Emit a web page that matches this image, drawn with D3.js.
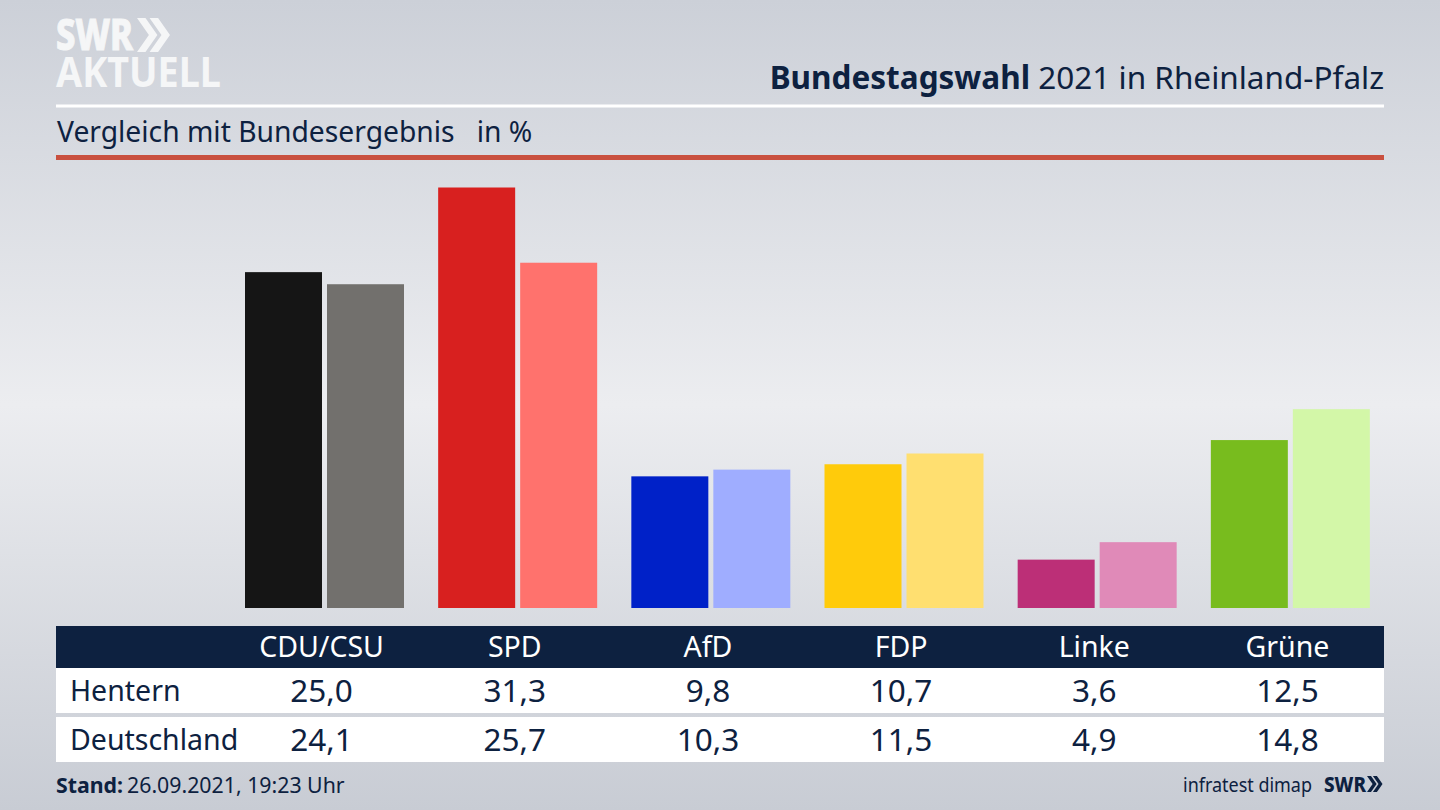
<!DOCTYPE html>
<html><head><meta charset="utf-8">
<script src="https://cdn.jsdelivr.net/npm/d3@7"></script>
<style>html,body{margin:0;padding:0;overflow:hidden;background:#d8dbe0}svg{display:block}text{font-family:"Noto Sans",sans-serif;fill:#0d2140}</style>
</head><body><div id="c"></div>
<script>
const parties = ["CDU/CSU","SPD","AfD","FDP","Linke","Grüne"];
const hentern = [25.0,31.3,9.8,10.7,3.6,12.5];
const deutschland = [24.1,25.7,10.3,11.5,4.9,14.8];
const seriesNames = ["Hentern","Deutschland"];
const colorsHentern = ["#151515","#d8201f","#0021c8","#ffcb0b","#bc2f77","#78bc1e"];
const colorsDeutschland = ["#72706d","#ff726d","#9fadff","#ffdf70","#e08ab8","#d3f7a8"];
const fmt = v => v.toFixed(1).replace(".",",");

const W=1440,H=810;
const svg=d3.select("#c").append("svg").attr("width",W).attr("height",H);
const defs=svg.append("defs");
const g=defs.append("linearGradient").attr("id","bg").attr("x1",0).attr("x2",0).attr("y1",0).attr("y2",1);
[[0,"#ccd0d8"],[0.5,"#ecedf0"],[1,"#c8ccd4"]].forEach(d=>g.append("stop").attr("offset",d[0]).attr("stop-color",d[1]));
svg.append("rect").attr("width",W).attr("height",H).attr("fill","url(#bg)");

// logo
const chev=(sel,x,y,h,fill)=>{const w=h*0.35,th=h*0.25;[0,0.37].forEach(k=>{const x0=x+k*h;
 sel.append("path").attr("d",`M${x0},${y}h${th}l${w},${h/2}l${-w},${h/2}h${-th}l${w},${-h/2}z`).attr("fill",fill);});};
const logoFill="#f5f6f7";
svg.append("text").attr("x",56).attr("y",50).attr("font-size",43).attr("font-weight",800).attr("textLength",77).attr("lengthAdjust","spacingAndGlyphs").style("fill",logoFill).style("stroke",logoFill).style("stroke-width",1).text("SWR");
chev(svg,137,18,34,logoFill);
svg.append("text").attr("x",56).attr("y",87).attr("font-size",42).attr("font-weight",700).attr("textLength",165).attr("lengthAdjust","spacingAndGlyphs").style("fill",logoFill).text("AKTUELL");

// title
const t=svg.append("text").attr("x",1384).attr("y",89).attr("text-anchor","end").attr("font-size",31.5);
t.append("tspan").attr("font-weight",700).text("Bundestagswahl");
t.append("tspan").text(" 2021 in Rheinland-Pfalz");
svg.append("rect").attr("x",56).attr("y",104.5).attr("width",1328).attr("height",3).attr("fill","#fff");
svg.append("text").attr("x",57).attr("y",142).attr("font-size",28.25).attr("xml:space","preserve").style("white-space","pre").text("Vergleich mit Bundesergebnis   in %");
svg.append("rect").attr("x",56).attr("y",155).attr("width",1328).attr("height",5).attr("fill","#c9503f");

// bars
const x=d3.scaleBand().domain(parties).range([228,1387]).padding(0);
const inner=d3.scaleBand().domain(seriesNames).range([17,176]).paddingInner(0.061);
const y=d3.scaleLinear().domain([0,31.3]).range([608,187.5]);
const bar=svg.append("g").selectAll("g").data(parties).join("g").attr("transform",d=>`translate(${x(d)},0)`);
const rows=[[hentern,colorsHentern,"Hentern"],[deutschland,colorsDeutschland,"Deutschland"]];
rows.forEach(([vals,cols,name])=>{
 bar.append("rect").attr("x",inner(name)).attr("width",inner.bandwidth())
  .attr("y",(d,i)=>y(vals[i])).attr("height",(d,i)=>y(0)-y(vals[i])).attr("fill",(d,i)=>cols[i]);
});

// table
const cx=d=>x(d)+x.bandwidth()/2-3;
svg.append("rect").attr("x",56).attr("y",626).attr("width",1328).attr("height",42).attr("fill","#0d2140");
svg.append("rect").attr("x",56).attr("y",668).attr("width",1328).attr("height",45).attr("fill","#fff");
svg.append("rect").attr("x",56).attr("y",717).attr("width",1328).attr("height",45).attr("fill","#fff");
svg.selectAll("text.h").data(parties).join("text").attr("class","h").attr("x",cx).attr("y",657).attr("text-anchor","middle").attr("font-size",28.5).style("fill","#fff").text(d=>d);
[[hentern,701,"Hentern"],[deutschland,750,"Deutschland"]].forEach(([vals,yy,name])=>{
 svg.append("text").attr("x",70).attr("y",yy).attr("font-size",28.5).text(name);
 svg.append("g").selectAll("text").data(parties).join("text").attr("x",cx).attr("y",yy+1).attr("text-anchor","middle").attr("font-size",31.5).text((d,i)=>fmt(vals[i]));
});

// footer
const s=svg.append("text").attr("x",56).attr("y",793).attr("font-size",21.3);
s.append("tspan").attr("font-weight",700).text("Stand:");
s.append("tspan").attr("dx",4).text("26.09.2021, 19:23 Uhr");
svg.append("text").attr("x",1183).attr("y",792).attr("font-size",19).attr("textLength",129).attr("lengthAdjust","spacingAndGlyphs").text("infratest dimap");
svg.append("text").attr("x",1324).attr("y",792).attr("font-size",21).attr("font-weight",800).attr("textLength",42).attr("lengthAdjust","spacingAndGlyphs").text("SWR");
chev(svg,1367,776,16,"#0d2140");
</script></body></html>
